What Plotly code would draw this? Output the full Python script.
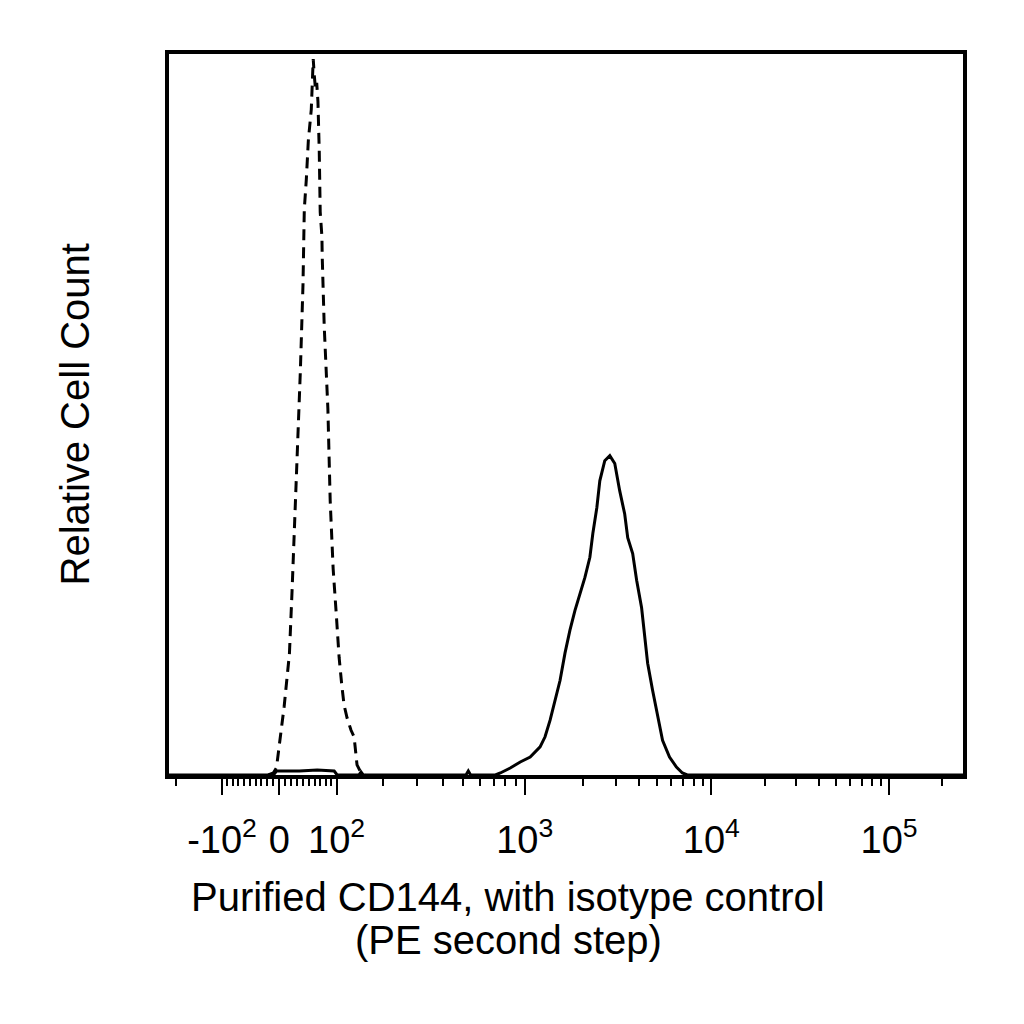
import numpy as np
import plotly.graph_objects as go

# logicle display scale used by the cytometer software (channels 0..1024)
T = 262144
M = 4.5
W = 0.625
A = 0.0
N_CH = 1024

# isotype control (dashed) - channel, relative count
iso_ch = [128, 134.7, 138.6, 142.4, 145.0, 148.5, 151.4, 155.3, 158.7, 161.7,
          165.5, 169.4, 172.8, 174.5, 177.1, 179.7, 183.5, 184.8, 186.0, 187.4,
          189.0, 190.5, 192.1, 193.8, 194.5, 195.0, 197.2, 197.6, 200.2, 204.9,
          207.9, 211.7, 215.6, 219.4, 222.9, 225.8, 229.7, 234.8, 238.7, 242.5,
          247.7, 253]
iso_count = [0, 0.3, 1.0, 4.8, 6.5, 9.5, 12.4, 16.8, 25.5, 34,
             44.5, 56, 68, 78.5, 82.6, 88, 92.3, 97.5, 99.3, 97.0,
             95.0, 96.0, 93.4, 86.4, 80.9, 78.1, 74.7, 71.9, 62.2, 50.8,
             38.0, 28.6, 22.5, 16.3, 12.4, 9.7, 7.9, 6.2, 5.3, 1.4,
             0.3, 0]

# purified CD144 (solid) - channel, relative count
cd144_ch = [0, 134.7, 138.6, 168.1, 191.2, 213.0, 216.9, 245.0, 247.7, 250.5,
            383.0, 386.0, 389.0, 420.9, 427.3, 440.1, 453.0, 465.8, 478.6, 485.0,
            491.5, 497.9, 504.3, 510.7, 517.1, 523.5, 530.0, 536.4, 542.8, 546.6,
            551.8, 555.6, 562.0, 568.5, 574.9, 581.3, 587.7, 591.6, 598.0, 603.1,
            609.5, 613.4, 617.3, 623.6, 630.1, 636.5, 645.5, 654.4, 662.1, 668.5,
            1024]
cd144_count = [0, 0, 0.55, 0.55, 0.7, 0.55, 0, 0, 0.4, 0,
               0, 0.55, 0, 0, 0.28, 0.97, 1.8, 2.5, 3.9, 5.3,
               7.6, 10.4, 13.1, 16.9, 20.1, 22.8, 25.2, 27.4, 30.2, 33.5,
               37.1, 40.8, 43.6, 44.3, 43.2, 39.4, 36.2, 32.9, 30.7, 27.0,
               23.2, 19.6, 15.5, 11.8, 8.0, 4.8, 2.5, 1.1, 0.28, 0,
               0]

major_vals = [-100, 0, 100, 1000, 10000, 100000]
major_text = ["-10<sup>2</sup>", "0", "10<sup>2</sup>", "10<sup>3</sup>",
              "10<sup>4</sup>", "10<sup>5</sup>"]
minor_vals = ([-200] + [-k for k in range(10, 100, 10)] + list(range(10, 100, 10))
              + list(range(200, 1000, 100)) + list(range(2000, 10000, 1000))
              + list(range(20000, 100000, 10000)) + [200000])


def make_logicle():
    w = W / (M + A)
    x2 = A / (M + A)
    x1 = x2 + w
    x0 = x2 + 2 * w
    b = (M + A) * np.log(10)
    lo, hi = 1e-9, b
    for i in range(200):
        d = (lo + hi) / 2
        if 2 * (np.log(d) - np.log(b)) + w * (b + d) > 0:
            hi = d
        else:
            lo = d
    c_a = np.exp(x0 * (b + d))
    mf_a = np.exp(b * x1) - c_a / np.exp(d * x1)
    a = T / (np.exp(b) - mf_a - c_a / np.exp(d))
    f = -mf_a * a
    c = c_a * a

    def inverse(x):
        x = np.asarray(x, float)
        r = np.where(x >= x1, x, 2 * x1 - x)
        v = a * np.exp(b * r) - c * np.exp(-d * r) + f
        return np.where(x >= x1, v, -v)

    grid = np.linspace(0, 1, 200001)
    vals = inverse(grid)
    return lambda v: np.interp(v, vals, grid) * N_CH


to_channel = make_logicle()

fig = go.Figure()
fig.add_trace(go.Scatter(x=iso_ch, y=iso_count, mode="lines",
                         line=dict(color="black", width=3, dash="11px,7px"),
                         name="isotype control"))
fig.add_trace(go.Scatter(x=cd144_ch, y=cd144_count, mode="lines",
                         line=dict(color="black", width=3),
                         name="Purified CD144"))

font = "Liberation Sans, Arial, sans-serif"
fig.update_layout(
    width=1024, height=1024,
    margin=dict(l=161, r=69, t=46, b=257),
    paper_bgcolor="white", plot_bgcolor="white",
    showlegend=False,
    font=dict(family=font, color="black"),
)
fig.update_xaxes(
    range=[0, N_CH], showgrid=False, zeroline=False,
    showline=True, linecolor="black", linewidth=3.5, mirror=True,
    tickmode="array", tickvals=list(to_channel(major_vals)), ticktext=major_text,
    ticks="outside", ticklen=16, tickwidth=2, tickcolor="black",
    tickfont=dict(size=38, family=font), ticklabelstandoff=13,
    minor=dict(tickmode="array", tickvals=list(to_channel(minor_vals)),
               ticks="outside", ticklen=7, tickwidth=2, tickcolor="black"),
)
fig.update_yaxes(
    range=[0, 100], showgrid=False, zeroline=False,
    showline=True, linecolor="black", linewidth=3.5, mirror=True,
    showticklabels=False, ticks="",
)

fig.add_annotation(text="Purified CD144, with isotype control", xref="paper", yref="paper",
                   x=0.427, y=0, yshift=-122, showarrow=False, yanchor="middle",
                   font=dict(size=40, family=font))
fig.add_annotation(text="(PE second step)", xref="paper", yref="paper",
                   x=0.427, y=0, yshift=-165, showarrow=False, yanchor="middle",
                   font=dict(size=40, family=font))
fig.add_annotation(text="Relative Cell Count", xref="paper", yref="paper",
                   x=0, y=0.5, xshift=-95, xanchor="center", textangle=-90,
                   showarrow=False, font=dict(size=40, family=font))

fig.write_html("out.html")
